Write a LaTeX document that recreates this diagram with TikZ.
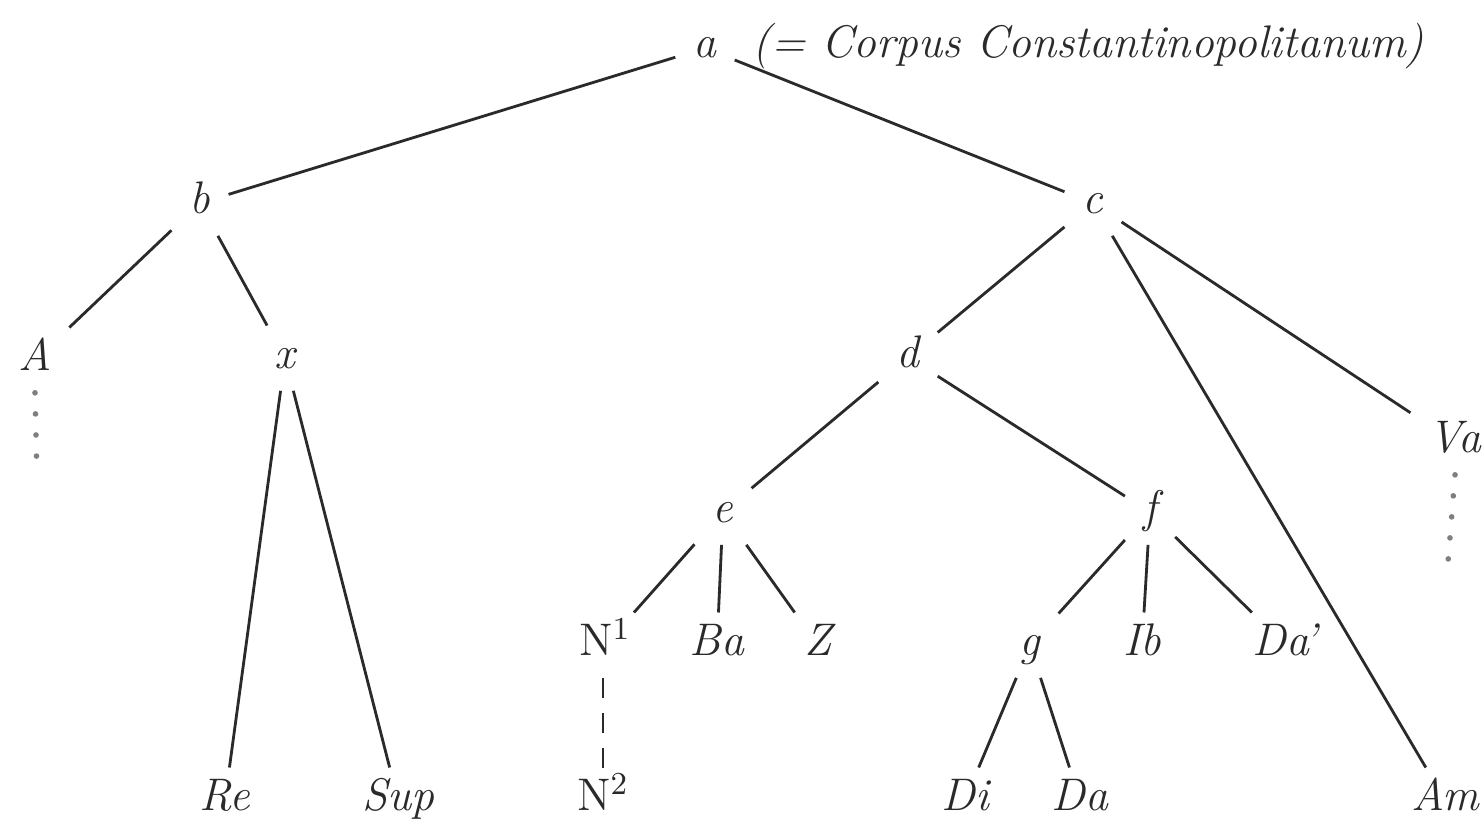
\documentclass[tikz,border=0pt]{standalone}
\usepackage{tikz}
\usetikzlibrary{positioning}
\definecolor{Ink}{HTML}{2A2A2A}
\tikzset{
  ms/.style={font=\fontsize{13}{15}\selectfont\itshape,text=Ink,anchor=base,
    inner sep=5pt,text height=1.6ex,text depth=0.3ex},
  link/.style={draw=Ink,line width=0.8pt},
  lost/.style={draw=Ink!60,line width=1.6pt,line cap=round,dash pattern=on 0pt off 6pt}
}

\begin{document}
\begin{tikzpicture}
  \fill[white] (0,0) rectangle (14.82,8.22);
  \useasboundingbox (0,0) rectangle (14.82,8.22);
  \foreach \n/\x/\y/\t in {a/7.05/7.64/a, b/2.00/6.09/b, c/10.93/6.09/c,
      A/0.35/4.52/A, x/2.85/4.54/x, d/9.08/4.55/d, Va/14.55/3.70/Va,
      e/7.23/3.00/e, f/11.50/3.00/f,
      Na/6.05/1.67/{\upshape N\textsuperscript{1}}, Ba/7.17/1.67/Ba, Z/8.18/1.67/Z,
      g/10.30/1.67/g, Ib/11.42/1.67/Ib, Dp/12.85/1.67/{Da\kern-1.5pt’},
      Re/2.25/0.12/Re, Sup/3.98/0.12/Sup, Nb/6.03/0.12/{\upshape N\textsuperscript{2}},
      Di/9.65/0.12/Di, Da/10.80/0.12/Da, Am/14.45/0.12/Am}
    {\node[ms] (\n) at (\x,\y) {\t};}
  \node[ms,base right=0pt of a] (cc) {(= Corpus Constantinopolitanum)};
  \foreach \p/\q in {a/b,a/c,b/A,b/x,x/Re,x/Sup,c/d,c/Am,c/Va,d/e,d/f,
      e/Na,e/Ba,e/Z,f/g,f/Ib,f/Dp,g/Di,g/Da}
    \draw[link] (\p) -- (\q);
  \coordinate (Aend) at (0.37,3.45);
  \coordinate (Vaend) at (14.48,2.60);
  \draw[lost] (A.south) -- (Aend);
  \draw[lost] (Va.south) -- (Vaend);
  \draw[link,dash pattern=on 0.2cm off 0.15cm] (Nb.north -| Nb.center) -- (Nb.center |- Na.south);
\end{tikzpicture}
\end{document}
